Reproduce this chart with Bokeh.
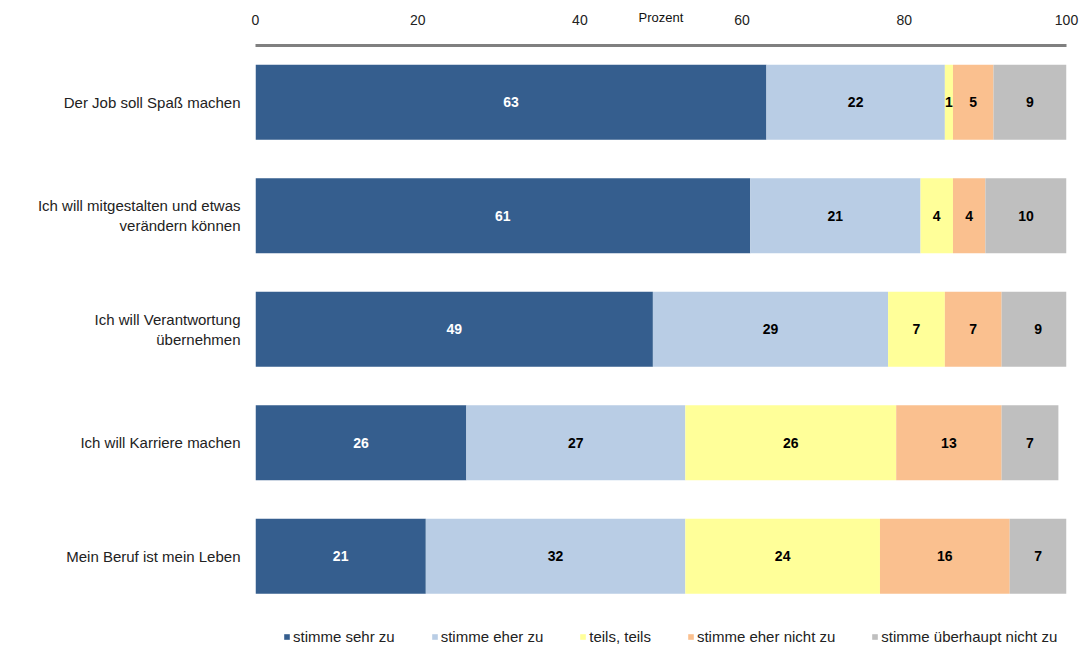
from bokeh.plotting import figure
from bokeh.models import (ColumnDataSource, Range1d, Legend, LegendItem,
                          FixedTicker, LabelSet)
from bokeh.core.properties import value
from bokeh.embed import file_html
from bokeh.resources import INLINE

# Aussagen (top to bottom)
statements = [
    "Der Job soll Spaß machen",
    "Ich will mitgestalten und etwas\nverändern können",
    "Ich will Verantwortung\nübernehmen",
    "Ich will Karriere machen",
    "Mein Beruf ist mein Leben",
]

answers = ["stimme sehr zu", "stimme eher zu", "teils, teils",
           "stimme eher nicht zu", "stimme überhaupt nicht zu"]

sehr_zu = [63, 61, 49, 26, 21]
eher_zu = [22, 21, 29, 27, 32]
teils = [1, 4, 7, 26, 24]
eher_nicht = [5, 4, 7, 13, 16]
gar_nicht = [9, 10, 9, 7, 7]

x_ticks = [0, 20, 40, 60, 80, 100]

colors = ["#355E8E", "#B9CDE5", "#FFFF99", "#FAC08F", "#BFBFBF"]
label_colors = ["white", "black", "black", "black", "black"]
FONT = "Liberation Sans"

n = len(statements)
rows = [n - 1 - i for i in range(n)]          # first statement on top

series = [sehr_zu, eher_zu, teils, eher_nicht, gar_nicht]
keys = ["s0", "s1", "s2", "s3", "s4"]
data = {"row": rows}
for k, vals in zip(keys, series):
    data[k] = vals
source = ColumnDataSource(data)

# the lower part of the y range leaves room for the legend row
p = figure(width=1084, height=647,
           y_range=Range1d(-0.804, n - 0.5),
           x_range=Range1d(0, 100),
           x_axis_location="above",
           output_backend="svg", toolbar_location=None,
           min_border_left=255, min_border_right=18,
           min_border_top=45, min_border_bottom=0)

renderers = p.hbar_stack(keys, y="row", height=0.66, color=colors,
                         source=source, line_width=0)

# value labels centred in every segment
for i, (vals, tc) in enumerate(zip(series, label_colors)):
    left = [sum(s[j] for s in series[:i]) for j in range(n)]
    mids = [l + v / 2 for l, v in zip(left, vals)]
    src = ColumnDataSource(dict(x=mids, y=rows, t=[str(v) for v in vals]))
    p.add_layout(LabelSet(x="x", y="y", text="t", source=src,
                          text_align="center", text_baseline="middle",
                          text_color=tc, text_font=value(FONT),
                          text_font_size="14px", text_font_style="bold"))

# top axis with the title level with the tick labels
p.xaxis.ticker = FixedTicker(ticks=x_ticks)
p.xaxis.major_tick_line_color = None
p.xaxis.minor_tick_line_color = None
p.xaxis.axis_line_color = "#808080"
p.xaxis.axis_line_width = 3
p.xaxis.major_label_standoff = 15
p.xaxis.major_label_text_font = FONT
p.xaxis.major_label_text_font_size = "14px"
p.xaxis.major_label_text_color = "#222222"
p.xaxis.axis_label = "Prozent"
p.xaxis.axis_label_standoff = -13
p.xaxis.axis_label_text_font = FONT
p.xaxis.axis_label_text_font_size = "13px"
p.xaxis.axis_label_text_font_style = "normal"
p.xaxis.axis_label_text_color = "#111111"

# statement labels on the left
p.yaxis.ticker = FixedTicker(ticks=rows)
p.yaxis.major_label_overrides = {r: s for r, s in zip(rows, statements)}
p.yaxis.axis_line_color = None
p.yaxis.major_tick_line_color = None
p.yaxis.minor_tick_line_color = None
p.yaxis.major_label_standoff = 9
p.yaxis.major_label_text_font = FONT
p.yaxis.major_label_text_font_size = "15px"
p.yaxis.major_label_text_color = "#222222"

p.xgrid.grid_line_color = None
p.ygrid.grid_line_color = None
p.outline_line_color = None

legend = Legend(items=[LegendItem(label=a, renderers=[r])
                       for a, r in zip(answers, renderers)],
                orientation="horizontal", location=(28, 2),
                glyph_width=7, glyph_height=7, label_standoff=3,
                spacing=36, padding=0, margin=0,
                border_line_color=None, background_fill_alpha=0,
                label_text_font=FONT, label_text_font_size="15px",
                label_text_color="#222222", label_height=15)
p.add_layout(legend, "center")

open("out.html", "w").write(file_html(p, INLINE))
